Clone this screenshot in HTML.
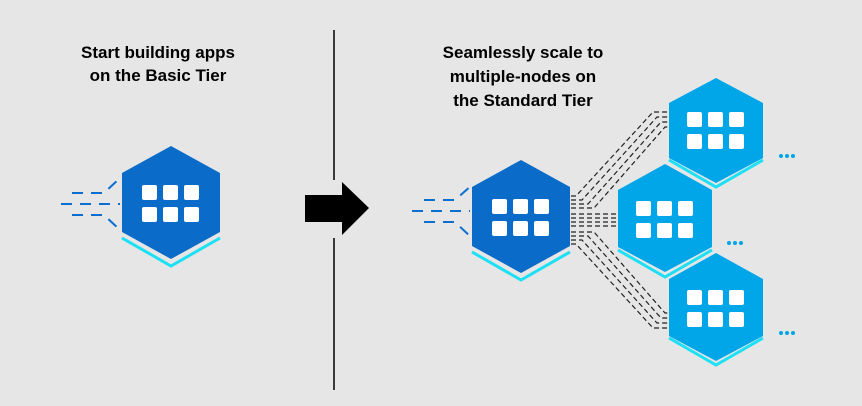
<!DOCTYPE html>
<html><head><style>
body{margin:0;background:#e6e6e6;}
svg{display:block}
text{font-family:"Liberation Sans",sans-serif;font-weight:bold;font-size:17px;fill:#000;text-anchor:middle}
</style></head><body>
<svg width="862" height="406" viewBox="0 0 862 406">
<defs>
<g id="icons" fill="#fff">
<rect x="-29" y="-18" width="15" height="15" rx="2"/><rect x="-8" y="-18" width="15" height="15" rx="2"/><rect x="13" y="-18" width="15" height="15" rx="2"/>
<rect x="-29" y="4" width="15" height="15" rx="2"/><rect x="-8" y="4" width="15" height="15" rx="2"/><rect x="13" y="4" width="15" height="15" rx="2"/>
</g>
</defs>
<rect width="862" height="406" fill="#e6e6e6"/>
<text x="158" y="58">Start building apps</text>
<text x="158" y="81">on the Basic Tier</text>
<text x="523" y="58">Seamlessly scale to</text>
<text x="523" y="82">multiple-nodes on</text>
<text x="523" y="106">the Standard Tier</text>
<line x1="334" y1="30" x2="334" y2="180" stroke="#000" stroke-width="1.5"/>
<line x1="334" y1="238" x2="334" y2="390" stroke="#000" stroke-width="1.5"/>
<polygon points="305,195 342,195 342,182 369,208 342,235 342,222 305,222" fill="#000"/>
<g stroke="#0a6fcf" stroke-width="2" stroke-dasharray="11,8" fill="none">
<line x1="61" y1="204" x2="120" y2="204"/>
<polyline points="72,193 104,193 120,178"/>
<polyline points="72,215 104,215 120,230"/>
<polyline points="412,211 470,211"/>
<polyline points="424,200 455,200 472,185"/>
<polyline points="424,222 455,222 472,238"/>
</g>
<g stroke="#222" stroke-width="1.2" stroke-dasharray="5,3" fill="none">
<polyline points="571,196 576,196 653,112 669,112"/>
<polyline points="571,200 582,200 657,117 669,117"/>
<polyline points="571,204 588,204 661,122 669,122"/>
<polyline points="571,208 594,208 665,127 669,127"/>
<line x1="571" y1="214" x2="618" y2="214"/>
<line x1="571" y1="218" x2="618" y2="218"/>
<line x1="571" y1="222" x2="618" y2="222"/>
<line x1="571" y1="226" x2="618" y2="226"/>
<polyline points="571,232 594,232 665,313 669,313"/>
<polyline points="571,236 588,236 661,318 669,318"/>
<polyline points="571,240 582,240 657,323 669,323"/>
<polyline points="571,244 576,244 653,328 669,328"/>
</g>
<polyline points="122,238 171,266 220,238" stroke="#1ee0f5" stroke-width="3" fill="none"/>
<polygon points="171,146 220,173 220,232 171,259 122,232 122,173" fill="#0a6cc8"/>
<use href="#icons" x="171" y="203"/>
<polyline points="472,252 521,280 570,252" stroke="#1ee0f5" stroke-width="3" fill="none"/>
<polygon points="521,160 570,187 570,246 521,273 472,246 472,187" fill="#0a6cc8"/>
<use href="#icons" x="521" y="217"/>
<polyline points="669,160 716,187 763,160" stroke="#1ee0f5" stroke-width="3" fill="none"/>
<polygon points="716,78 763,103 763,158 716,183 669,158 669,103" fill="#00a6e8"/>
<use href="#icons" x="716" y="130"/>
<polyline points="618,250 665,277 712,250" stroke="#1ee0f5" stroke-width="3" fill="none"/>
<polygon points="665,164 712,190 712,247 665,272 618,247 618,190" fill="#00a6e8"/>
<use href="#icons" x="665" y="219"/>
<polyline points="669,338 716,365 763,338" stroke="#1ee0f5" stroke-width="3" fill="none"/>
<polygon points="716,253 763,279 763,336 716,361 669,336 669,279" fill="#00a6e8"/>
<use href="#icons" x="716" y="308"/>
<g fill="#00a6e8">
<circle cx="781" cy="156" r="2"/><circle cx="787" cy="156" r="2"/><circle cx="793" cy="156" r="2"/>
<circle cx="729" cy="243" r="2"/><circle cx="735" cy="243" r="2"/><circle cx="741" cy="243" r="2"/>
<circle cx="781" cy="333" r="2"/><circle cx="787" cy="333" r="2"/><circle cx="793" cy="333" r="2"/>
</g>
</svg>
</body></html>
